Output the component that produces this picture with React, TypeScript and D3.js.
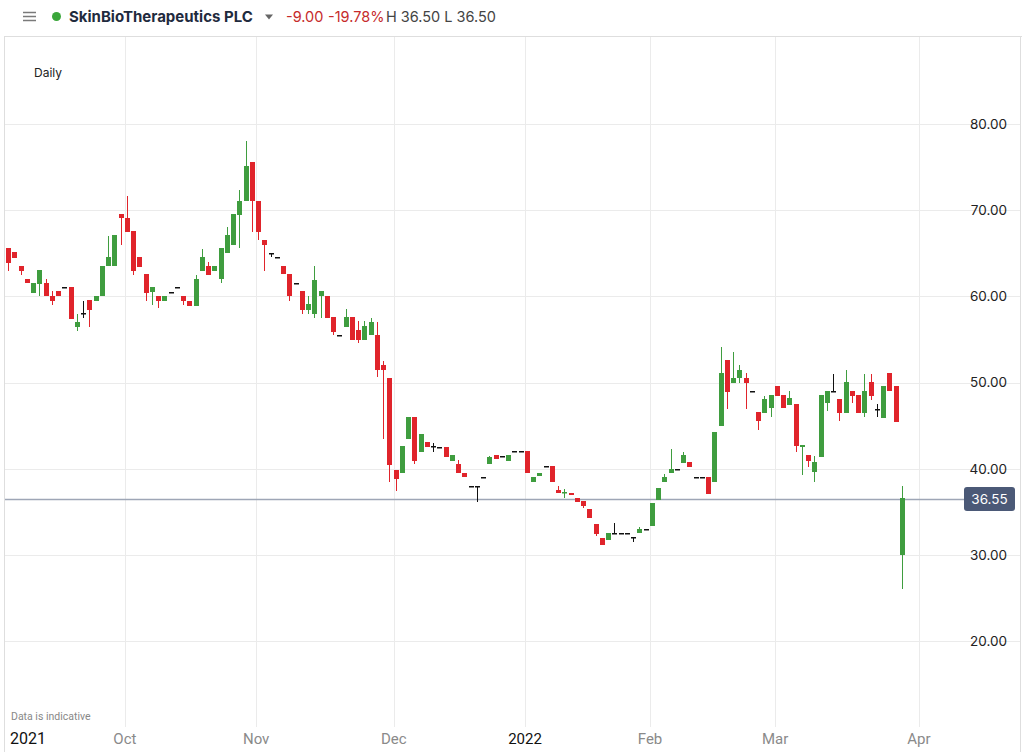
import React from "react";
import * as d3 from "d3";

// ---- Data (daily OHLC, Sep 2021 – Mar 2022, trading-day index) ----
const opens = [
  65.6, 65.1, 63.5, 62.0, 60.4, 61.4, 61.5, 60.05, 60.6, 61.05,
  61.05, 56.5, 58.05, 59.6, 59.5, 60.0, 63.5, 63.5, 69.6, 69.1,
  67.6, 64.6, 62.6, 60.5, 60.05, 59.5, 60.5, 61.1, 60.05, 59.5,
  58.9, 63.0, 63.5, 63.0, 62.0, 65.0, 66.0, 69.5, 71.1, 75.6,
  71.1, 66.6, 65.0, 64.55, 63.5, 62.6, 61.6, 60.6, 58.4, 58.0,
  60.05, 60.05, 57.6, 55.5, 56.5, 57.6, 56.1, 55.0, 55.5, 55.5,
  52.0, 50.5, 39.9, 39.5, 43.5, 46.05, 42.0, 43.1, 42.7, 42.5,
  42.5, 40.95, 40.6, 39.5, 38.0, 38.0, 39.05, 40.56, 41.6, 41.5,
  40.95, 42.1, 42.1, 42.1, 38.5, 39.2, 40.33, 40.33, 37.55, 37.17,
  37.24, 36.65, 36.27, 35.33, 33.6, 31.93, 31.7, 32.5, 32.5, 32.5,
  32.05, 32.5, 33.0, 33.4, 36.4, 38.5, 39.47, 40.0, 40.7, 40.8,
  39.0, 39.0, 39.0, 38.5, 44.97, 52.6, 50.0, 50.5, 50.58, 49.03,
  46.64, 46.53, 47.0, 49.6, 48.56, 47.4, 47.5, 42.5, 41.6, 39.67,
  41.4, 47.68, 49.0, 48.07, 46.53, 49.03, 48.56, 46.53, 50.07, 46.9,
  45.94, 51.1, 49.6, 30.0,
];
const closes = [
  63.9, 64.4, 63.0, 61.5, 61.5, 63.1, 60.0, 59.5, 60.0, 61.05,
  57.4, 57.0, 58.05, 58.4, 60.05, 63.5, 64.6, 67.1, 69.1, 67.5,
  63.0, 63.4, 60.4, 61.1, 59.5, 60.05, 60.5, 61.1, 59.5, 58.9,
  62.0, 64.6, 62.5, 63.5, 65.6, 67.1, 69.6, 71.1, 75.1, 71.1,
  67.5, 66.0, 65.0, 64.55, 62.6, 60.05, 61.6, 58.4, 59.1, 61.9,
  60.6, 57.45, 55.9, 55.5, 57.6, 55.0, 55.0, 56.6, 57.0, 51.5,
  51.5, 40.4, 38.8, 42.6, 46.05, 40.95, 44.0, 42.5, 42.7, 42.5,
  41.4, 41.6, 39.5, 39.0, 38.0, 38.0, 39.05, 41.4, 41.16, 41.5,
  41.6, 42.1, 42.1, 39.5, 39.1, 39.5, 40.33, 38.5, 37.24, 37.36,
  37.0, 36.2, 35.7, 34.25, 32.44, 31.15, 32.5, 32.5, 32.5, 32.5,
  32.05, 33.0, 33.0, 36.0, 37.8, 39.1, 40.0, 40.0, 41.56, 40.25,
  39.0, 39.0, 37.05, 44.3, 51.15, 48.94, 50.5, 51.5, 50.0, 49.03,
  45.5, 48.07, 48.56, 48.45, 47.0, 48.2, 42.65, 42.76, 40.95, 40.83,
  48.56, 49.03, 49.0, 46.53, 50.07, 48.45, 46.53, 49.03, 48.45, 46.9,
  49.6, 48.97, 45.47, 36.6,
];
const highs = [
  65.6, 65.1, 63.5, 62.0, 61.5, 63.1, 62.0, 60.6, 60.6, 61.05,
  61.05, 58.0, 59.5, 59.6, 60.05, 63.5, 67.0, 67.1, 69.6, 71.6,
  67.6, 64.6, 62.6, 61.1, 60.05, 60.05, 60.5, 61.1, 60.05, 59.5,
  62.5, 65.5, 64.0, 63.5, 65.6, 68.0, 69.6, 72.4, 78.0, 75.6,
  71.1, 66.6, 65.0, 64.55, 63.5, 62.6, 61.6, 60.6, 60.05, 63.5,
  60.6, 60.05, 57.6, 55.5, 58.5, 57.6, 57.1, 57.1, 57.45, 57.0,
  52.5, 50.5, 39.9, 42.6, 46.05, 46.05, 44.0, 43.1, 43.0, 42.5,
  42.5, 41.6, 41.0, 39.5, 38.0, 38.0, 39.05, 41.5, 41.6, 41.5,
  41.6, 42.1, 42.1, 42.1, 39.1, 39.5, 40.33, 40.33, 38.0, 37.63,
  37.24, 36.65, 36.27, 35.33, 33.6, 31.93, 32.5, 33.7, 32.5, 32.5,
  32.05, 33.3, 33.0, 36.0, 37.8, 39.37, 42.27, 40.0, 41.9, 40.8,
  39.0, 39.0, 39.0, 44.3, 54.1, 52.6, 53.6, 52.0, 51.1, 49.03,
  46.64, 48.45, 48.56, 49.6, 48.56, 49.06, 47.5, 42.76, 41.6, 41.5,
  48.56, 49.03, 51.0, 48.07, 51.46, 49.03, 48.56, 51.0, 51.0, 47.5,
  49.6, 51.1, 49.6, 38.0,
];
const lows = [
  63.0, 64.4, 62.5, 61.5, 60.4, 60.0, 60.0, 59.0, 60.0, 61.05,
  57.4, 56.0, 57.5, 56.5, 59.5, 60.0, 63.5, 63.5, 66.0, 67.5,
  62.5, 63.4, 59.5, 59.0, 58.6, 59.5, 60.5, 61.1, 59.0, 58.9,
  58.9, 63.0, 62.5, 63.0, 61.6, 65.0, 66.0, 65.6, 71.1, 67.5,
  66.6, 63.0, 64.6, 64.55, 62.6, 59.5, 61.6, 58.0, 58.0, 57.5,
  57.5, 57.45, 55.5, 55.5, 56.5, 55.0, 54.6, 55.0, 55.5, 50.6,
  43.5, 38.5, 37.4, 39.5, 43.5, 40.5, 42.0, 42.5, 42.0, 42.5,
  41.4, 40.95, 39.5, 39.0, 38.0, 36.1, 39.05, 40.56, 41.16, 41.5,
  40.95, 42.1, 42.1, 39.5, 38.5, 39.2, 40.33, 38.5, 37.24, 36.58,
  37.0, 36.2, 35.42, 34.25, 32.2, 31.15, 31.7, 32.5, 32.5, 32.5,
  31.55, 32.5, 33.0, 33.4, 36.4, 38.5, 39.47, 40.0, 40.7, 40.25,
  39.0, 39.0, 37.05, 38.5, 44.97, 46.94, 50.0, 50.0, 46.94, 49.03,
  44.5, 46.53, 46.05, 48.45, 47.0, 47.4, 42.0, 39.3, 40.25, 38.5,
  41.4, 46.75, 49.0, 45.56, 46.53, 47.6, 46.53, 46.05, 48.0, 46.05,
  45.94, 48.97, 45.47, 26.0,
];

const yTicks = [20, 30, 40, 50, 60, 70, 80];
const monthLabels = ["Oct", "Nov", "Dec", "2022", "Feb", "Mar", "Apr"];
const monthIndex = [19, 40, 62, 83, 103, 123, 146];
const lastPrice = 36.55;

const W = 1022;
const H = 752;
const GREEN = "#3f9d3f";
const RED = "#e0242b";
const GRID = "#ebebeb";

export default function App() {
  const n = opens.length;
  const x = d3.scaleLinear().domain([0, n - 1]).range([8, 902]);
  const y = d3.scaleLinear().domain([20, 80]).range([641.2, 124]);
  const bodyW = 5;
  const font = "Inter, 'Open Sans', Roboto, sans-serif";
  const narrow = "'Liberation Sans Narrow', Roboto, sans-serif";

  const candles = d3.range(n).map((i) => {
    const o = opens[i], c = closes[i], h = highs[i], l = lows[i];
    const color = c > o ? GREEN : c < o ? RED : "#111";
    const cx = Math.round(x(i));
    const top = Math.round(y(Math.max(o, c)));
    const bot = Math.round(y(Math.min(o, c)));
    const hy = Math.round(y(h));
    const ly = Math.round(y(l));
    return (
      <g key={i}>
        {ly - hy > 0 && (
          <line x1={cx + 0.5} x2={cx + 0.5} y1={hy} y2={ly} stroke={color} strokeWidth={1} />
        )}
        <rect
          x={cx - 2}
          y={top}
          width={bodyW}
          height={Math.max(bot - top, 1.5)}
          fill={color}
        />
      </g>
    );
  });

  const py = Math.round(y(lastPrice)) + 0.5;

  return (
    <svg
      width={W}
      height={H}
      style={{ position: "absolute", left: 0, top: 0, background: "#fff" }}
    >
      <rect x={0} y={0} width={W} height={H} fill="#fff" />
      {/* header */}
      <line x1={4} x2={W} y1={36.5} y2={36.5} stroke="#dedede" />
      <line x1={4.5} x2={4.5} y1={36} y2={H} stroke="#dedede" />
      <line x1={1020.5} x2={1020.5} y1={36} y2={H} stroke="#dedede" />
      {[12.5, 16.5, 20.5].map((yy) => (
        <line key={yy} x1={23} x2={36} y1={yy} y2={yy} stroke="#7a7a7a" strokeWidth={1.5} />
      ))}
      <circle cx={56.5} cy={16.5} r={4.5} fill="#3aa63a" />
      <text x={69} y={22} fontFamily={font} fontSize={15} fontWeight={700} fill="#1f2b3e">
        SkinBioTherapeutics PLC
      </text>
      <path d="M265,14.5 L273,14.5 L269,19.5 Z" fill="#666" />
      <text x={286} y={22} fontFamily={font} fontSize={14.5} fill="#c62b2b">-9.00</text>
      <text x={328} y={22} fontFamily={font} fontSize={14.5} fill="#c62b2b">-19.78%</text>
      <text x={386} y={22} fontFamily={font} fontSize={14.5} fill="#444">H 36.50 L 36.50</text>

      {/* grid */}
      {yTicks.map((t) => (
        <line key={t} x1={5} x2={1020} y1={Math.round(y(t)) + 0.5} y2={Math.round(y(t)) + 0.5} stroke={GRID} />
      ))}
      {monthIndex.map((mi, k) => (
        <line
          key={k}
          x1={Math.round(x(mi - 0.3)) + 0.5}
          x2={Math.round(x(mi - 0.3)) + 0.5}
          y1={37}
          y2={727}
          stroke={GRID}
        />
      ))}

      <text x={34} y={77} fontFamily={font} fontSize={12} fill="#222">Daily</text>

      {/* last price line */}
      <line x1={5} x2={964} y1={py} y2={py} stroke="#9ea6b6" strokeWidth={1.6} />

      {candles}

      {/* y axis labels */}
      {yTicks.map((t) => (
        <text
          key={t}
          x={1007}
          y={y(t)}
          dy="0.35em"
          textAnchor="end"
          fontFamily={font}
          fontSize={13.5}
          fill="#222"
        >
          {t.toFixed(2)}
        </text>
      ))}
      <rect x={964} y={487} width={51} height={24} rx={3} fill="#4b5977" />
      <text x={989.5} y={499} dy="0.35em" textAnchor="middle" fontFamily={font} fontSize={13.5} fill="#fff">
        {lastPrice.toFixed(2)}
      </text>

      {/* x axis */}
      <text x={11} y={720} fontFamily={narrow} fontSize={10.5} fill="#888">Data is indicative</text>
      <text x={10} y={744} fontFamily={narrow} fontSize={16} fill="#111">2021</text>
      {monthLabels.map((lab, k) => (
        <text
          key={lab}
          x={x(monthIndex[k] - 0.3)}
          y={744}
          textAnchor="middle"
          fontFamily={narrow}
          fontSize={15}
          fill={lab === "2022" ? "#111" : "#8a8a8a"}
        >
          {lab}
        </text>
      ))}
    </svg>
  );
}
